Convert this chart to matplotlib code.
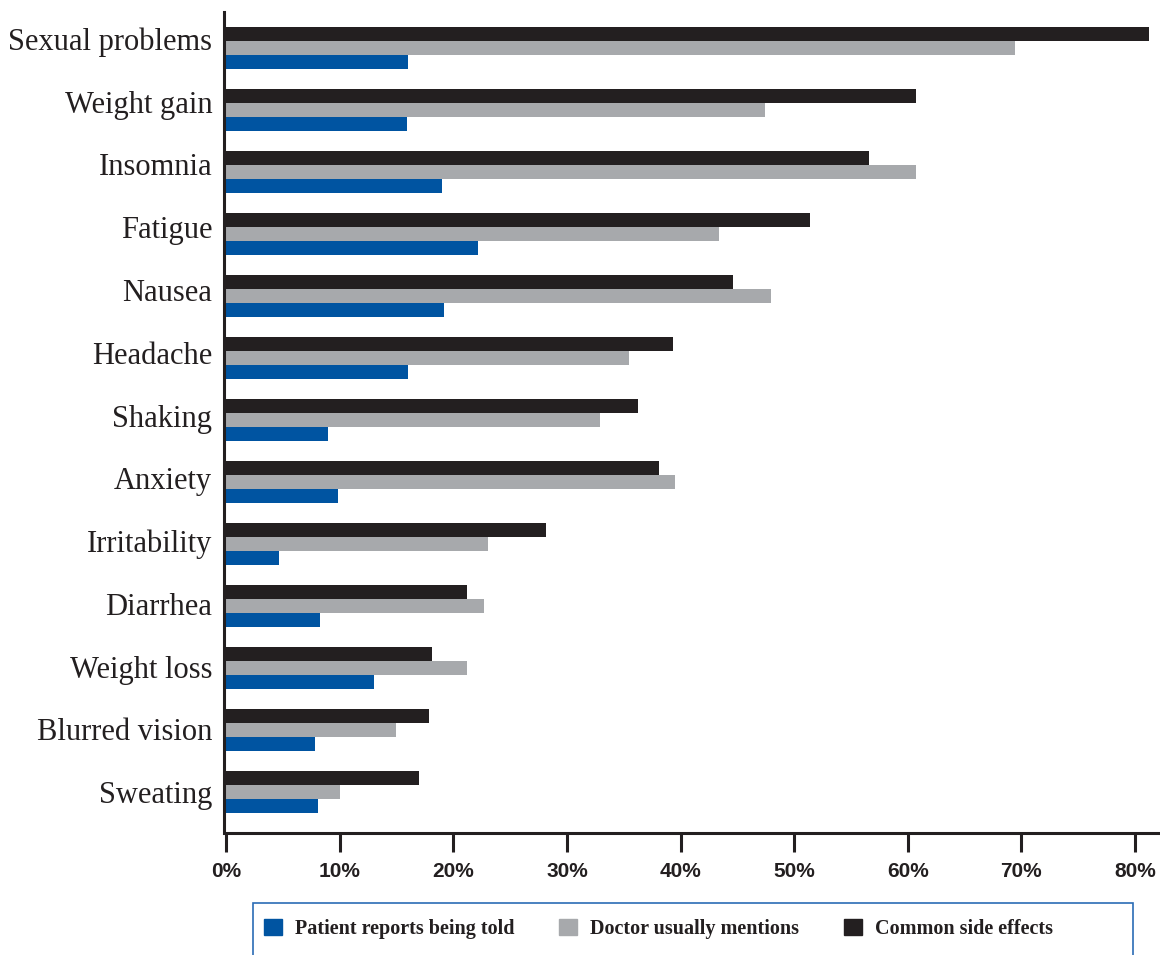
import numpy as np
import matplotlib
matplotlib.use("Agg")
import matplotlib.pyplot as plt
from matplotlib.patches import Rectangle, Patch

categories = ["Sexual problems", "Weight gain", "Insomnia", "Fatigue", "Nausea",
              "Headache", "Shaking", "Anxiety", "Irritability", "Diarrhea",
              "Weight loss", "Blurred vision", "Sweating"]
common_side_effects = [81.2, 60.7, 56.6, 51.4, 44.6, 39.3, 36.3, 38.1, 28.2, 21.2, 18.1, 17.9, 17.0]
doctor_mentions = [69.4, 47.4, 60.7, 43.4, 48.0, 35.5, 32.9, 39.5, 23.1, 22.7, 21.2, 15.0, 10.0]
patient_told = [16.0, 15.9, 19.0, 22.2, 19.2, 16.0, 9.0, 9.9, 4.7, 8.3, 13.0, 7.8, 8.1]
series_labels = ["Patient reports being told", "Doctor usually mentions", "Common side effects"]
xticks = [0, 10, 20, 30, 40, 50, 60, 70, 80]

BLUE = "#0054a1"
GRAY = "#a7a9ac"
BLACK = "#231f20"
FRAME = "#2b6cb5"

SERIF = ["Liberation Serif", "DejaVu Serif"]
SANS = ["Liberation Sans", "DejaVu Sans"]

fig = plt.figure(figsize=(11.6, 9.55), dpi=100)
ax = fig.add_axes([226 / 1160, 1 - 833 / 955, 1 - 226 / 1160, (833 - 12) / 955])

y = np.arange(len(categories))
h = 0.226
ax.barh(y - h, common_side_effects, height=h, color=BLACK, linewidth=0)
ax.barh(y, doctor_mentions, height=h, color=GRAY, linewidth=0)
ax.barh(y + h, patient_told, height=h, color=BLUE, linewidth=0)

ax.set_xlim(0, 82.2)
ax.set_ylim(12.66, -0.58)

for side in ["top", "right"]:
    ax.spines[side].set_visible(False)
for side in ["left", "bottom"]:
    ax.spines[side].set_linewidth(2.2)
    ax.spines[side].set_color(BLACK)
ax.spines["left"].set_position(("data", -0.18))

# the labels in the original sit a little higher at the top than at the bottom
label_pos = y - np.linspace(0.145, 0.0, len(categories))
ax.set_yticks(label_pos)
ax.set_yticklabels(categories, family=SERIF, fontsize=22, color=BLACK)
ax.tick_params(axis="y", length=0, pad=8.5)

ax.set_xticks(xticks)
ax.set_xticklabels([f"{v}%" for v in xticks], family=SANS, fontweight="bold",
                   fontsize=15, color=BLACK)
ax.tick_params(axis="x", length=14, width=2.2, color=BLACK, pad=7)

# legend with an open-bottomed blue frame
handles = [Patch(color=c) for c in (BLUE, GRAY, BLACK)]
leg = fig.legend(handles, series_labels, loc="center left", ncol=3,
                 bbox_to_anchor=(256 / 1160, 1 - 929 / 955), frameon=False,
                 prop={"family": SERIF, "weight": "bold", "size": 14.5},
                 handlelength=0.9, handleheight=0.85, handletextpad=0.65,
                 columnspacing=2.2, borderaxespad=0)
for t in leg.get_texts():
    t.set_color(BLACK)

fig.patches.append(Rectangle((253 / 1160, -0.05), (1133 - 253) / 1160, 0.05 + 1 - 903 / 955,
                             transform=fig.transFigure, fill=False, edgecolor=FRAME,
                             linewidth=1.2, clip_on=False))

fig.savefig("out.png", dpi=100)
